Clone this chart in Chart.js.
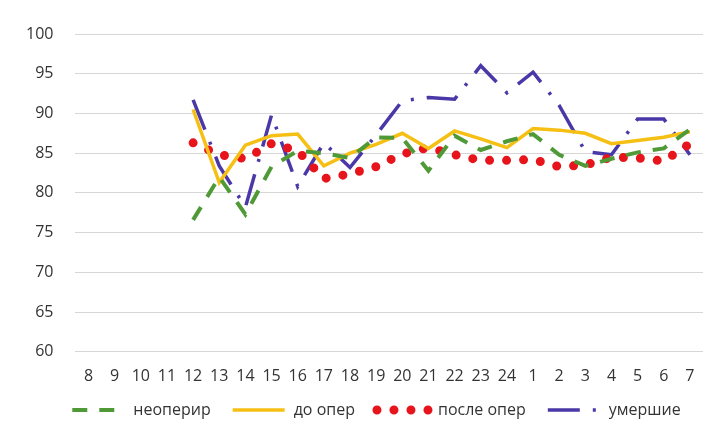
<!DOCTYPE html>
<html>
<head>
<meta charset="utf-8">
<script src="https://cdn.jsdelivr.net/npm/chart.js"></script>
<style>
  body { margin: 0; background: #fff; }
  #wrap { width: 721px; height: 439px; }
</style>
</head>
<body>
<div id="wrap"><canvas id="chart" width="721" height="439"></canvas></div>
<script>
// hours on the x axis (from 8 in the morning through the night to 7)
const hours = ['8','9','10','11','12','13','14','15','16','17','18','19','20','21','22','23','24','1','2','3','4','5','6','7'];
const yTicks = [60, 65, 70, 75, 80, 85, 90, 95, 100];

// values start at hour 12
const firstHour = '12';
const neoperir  = [76.6, 82.0, 77.3, 83.3, 85.3, 85.0, 84.4, 87.0, 86.9, 82.8, 87.2, 85.4, 86.5, 87.4, 84.8, 83.4, 84.3, 85.1, 85.6, 88.0];
const doOper    = [90.5, 81.3, 86.0, 87.2, 87.4, 83.4, 85.0, 86.1, 87.5, 85.6, 87.8, 86.8, 85.7, 88.1, 87.9, 87.5, 86.2, 86.6, 87.0, 87.7];
const posleOper = [86.3, 84.8, 84.3, 86.2, 85.3, 81.8, 82.4, 83.3, 84.9, 85.7, 84.8, 84.1, 84.1, 84.2, 83.3, 83.5, 84.5, 84.4, 84.0, 86.2];
const umershie  = [91.7, 83.4, 78.2, 89.8, 80.8, 86.3, 83.2, 87.3, 91.6, 92.0, 91.8, 96.0, 92.6, 95.2, 91.0, 85.2, 84.8, 89.3, 89.3, 84.8];

const lead = hours.indexOf(firstHour);
const pad = arr => new Array(lead).fill(null).concat(arr);

const fontFamily = '"Open Sans", "DejaVu Sans", sans-serif';
const font = { family: fontFamily, size: 16 };

// legend drawn by hand so the dash patterns show like in the lines
const lineLegend = {
  id: 'lineLegend',
  afterDraw(chart) {
    const c = chart.ctx;
    const sample = 52, gapText = 9, gapItem = 22;
    c.save();
    c.font = '16px ' + fontFamily;
    const items = chart.data.datasets.map(ds => ({ ds, w: sample + gapText + c.measureText(ds.label).width }));
    const total = items.reduce((s, it) => s + it.w, 0) + gapItem * (items.length - 1);
    let x = (chart.width - total) / 2 + 16;
    const y = 410;
    items.forEach(({ ds, w }) => {
      c.beginPath();
      c.strokeStyle = ds.borderColor;
      c.lineWidth = ds.borderWidth;
      c.lineCap = ds.borderCapStyle || 'butt';
      c.setLineDash(ds.borderDash || []);
      c.moveTo(x, y);
      c.lineTo(x + sample, y);
      c.stroke();
      c.setLineDash([]);
      c.fillStyle = '#333';
      c.textBaseline = 'middle';
      c.fillText(ds.label, x + sample + gapText, y);
      x += w + gapItem;
    });
    c.restore();
  }
};

const ctx = document.getElementById('chart');
new Chart(ctx, {
  type: 'line',
  data: {
    labels: hours,
    datasets: [
      {
        label: 'неоперир',
        data: pad(neoperir),
        borderColor: '#4f9a37',
        borderWidth: 4,
        borderDash: [15, 12],
        borderCapStyle: 'butt',
        pointRadius: 0,
        tension: 0
      },
      {
        label: 'до опер',
        data: pad(doOper),
        borderColor: '#f6bf14',
        borderWidth: 3.5,
        pointRadius: 0,
        tension: 0
      },
      {
        label: 'после опер',
        data: pad(posleOper),
        borderColor: '#e8141c',
        borderWidth: 9,
        borderDash: [0, 17],
        borderCapStyle: 'round',
        pointRadius: 0,
        tension: 0
      },
      {
        label: 'умершие',
        data: pad(umershie),
        borderColor: '#4a38a8',
        borderWidth: 3.5,
        borderDash: [32, 13, 3, 13],
        borderCapStyle: 'butt',
        pointRadius: 0,
        tension: 0
      }
    ]
  },
  options: {
    responsive: false,
    animation: false,
    layout: { padding: { left: 4, right: 18, top: 34, bottom: 46 } },
    plugins: {
      tooltip: { enabled: false },
      legend: { display: false }
    },
    scales: {
      x: {
        offset: true,
        grid: { display: false },
        border: { display: false },
        ticks: { color: '#333', font: font, autoSkip: false, maxRotation: 0, padding: 7 }
      },
      y: {
        min: 60,
        max: 100,
        afterBuildTicks: scale => { scale.ticks = yTicks.map(v => ({ value: v })); },
        grid: { color: '#d6d6d6', lineWidth: 1, drawTicks: false },
        border: { display: false },
        ticks: { color: '#333', font: font, padding: 22 }
      }
    }
  },
  plugins: [lineLegend]
});
</script>
</body>
</html>
